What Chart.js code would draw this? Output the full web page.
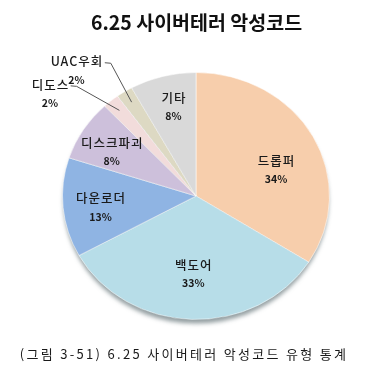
<!DOCTYPE html>
<html><head><meta charset="utf-8">
<script src="https://cdn.jsdelivr.net/npm/chart.js@4/dist/chart.umd.min.js"></script>
<style>html,body{margin:0;padding:0;background:#fff;}#wrap{width:373px;height:379px;position:relative;}</style>
</head><body><div id="wrap"><canvas id="c" width="373" height="379"></canvas></div>
<script>
const chartTitle = "6.25 사이버테러 악성코드";
const caption = "(그림 3-51) 6.25 사이버테러 악성코드 유형 통계";
const categories = ["드롭퍼", "백도어", "다운로더", "디스크파괴", "디도스", "UAC우회", "기타"];
const values = [34, 33, 13, 8, 2, 2, 8];
const colors = ["#F7CEAC", "#B7DDE8", "#8FB4E3", "#CDC0DB", "#F2DCDB", "#DDD9C3", "#D9D9D9"];

const YS = 0.925; // vertical squash of the tilted pie
const FONT = '"Noto Sans CJK KR", "Noto Sans", sans-serif';

function squash(chart, ctx){
  const a = chart.getDatasetMeta(0).data[0];
  ctx.translate(a.x, a.y); ctx.scale(1, YS); ctx.translate(-a.x, -a.y);
}

const piePlugin = {
  id: 'piePlugin',
  beforeDatasetsDraw(chart){
    const ctx = chart.ctx; const a = chart.getDatasetMeta(0).data[0];
    ctx.save();
    ctx.save();
    squash(chart, ctx);
    ctx.shadowColor = 'rgba(60,80,85,0.55)';
    ctx.shadowBlur = 4;
    ctx.shadowOffsetY = 4;
    ctx.beginPath(); ctx.arc(a.x, a.y + 1, a.outerRadius - 1, 0, Math.PI*2);
    ctx.fillStyle = '#4f6268'; ctx.fill();
    ctx.restore();
    squash(chart, ctx);
  },
  afterDatasetsDraw(chart, args, opts){
    const ctx = chart.ctx;
    ctx.restore();
    const meta = chart.getDatasetMeta(0);
    const total = values.reduce((s,v)=>s+v,0);
    meta.data.forEach((arc, i) => {
      const mid = (arc.startAngle + arc.endAngle) / 2;
      const cfg = opts.labels[i];
      const r = arc.outerRadius * cfg.f;
      let x = arc.x + Math.cos(mid) * r + cfg.dx;
      let y = arc.y + Math.sin(mid) * r * YS + cfg.dy;
      const pct = Math.round(values[i] / total * 100) + '%';
      ctx.save();
      ctx.fillStyle = '#1a1a1a';
      ctx.textAlign = 'center'; ctx.textBaseline = 'middle';
      ctx.font = '500 12.5px ' + FONT;
      ctx.letterSpacing = '1px';
      ctx.fillText(categories[i], x + 0.5, y - 9);
      ctx.letterSpacing = '0px';
      ctx.font = 'bold 10.5px ' + FONT;
      ctx.fillText(pct, x, y + 9);
      if (cfg.leader) {
        ctx.font = '500 12.5px ' + FONT;
        ctx.letterSpacing = '1px';
        const tw = ctx.measureText(categories[i]).width;
        ctx.letterSpacing = '0px';
        const ex = arc.x + Math.cos(mid) * arc.outerRadius * 0.9;
        const ey = arc.y + Math.sin(mid) * arc.outerRadius * 0.9 * YS;
        ctx.strokeStyle = '#555'; ctx.lineWidth = 1;
        ctx.beginPath();
        ctx.moveTo(x + tw/2 + 2, y - 9 + 1);
        ctx.lineTo(x + tw/2 + 8, y - 9 + 1.5);
        ctx.lineTo(ex, ey);
        ctx.stroke();
      }
      ctx.restore();
    });
  }
};

const textPlugin = {
  id: 'textPlugin',
  afterDraw(chart){
    const ctx = chart.ctx;
    ctx.save();
    ctx.fillStyle = '#111';
    ctx.textAlign = 'center'; ctx.textBaseline = 'middle';
    ctx.font = 'bold 19.5px ' + FONT;
    ctx.fillText(chartTitle, 196.5, 23);
    ctx.font = '13px ' + FONT;
    ctx.letterSpacing = '2.3px';
    ctx.fillStyle = '#1a1a1a';
    ctx.fillText(caption, 184, 354);
    ctx.restore();
  }
};

new Chart(document.getElementById('c'), {
  type: 'pie',
  data: {
    labels: categories,
    datasets: [{
      data: values,
      backgroundColor: colors,
      borderColor: 'rgba(255,255,255,0.55)',
      borderWidth: 1
    }]
  },
  options: {
    responsive: false,
    animation: false,
    events: [],
    rotation: 0,
    layout: { padding: { top: 62, bottom: 49, left: 62, right: 43 } },
    plugins: {
      legend: { display: false },
      tooltip: { enabled: false },
      title: { display: false },
      piePlugin: {
        labels: [
          { f: 0.65, dx: 4, dy: 13 },
          { f: 0.65, dx: 0, dy: -2 },
          { f: 0.65, dx: -9, dy: 4 },
          { f: 0.65, dx: -11, dy: -1 },
          { f: 1.0, dx: -61, dy: -7, leader: true },
          { f: 1.0, dx: -48, dy: -21, leader: true },
          { f: 0.65, dx: -1, dy: -11 }
        ]
      }
    }
  },
  plugins: [piePlugin, textPlugin]
});
</script></body></html>
